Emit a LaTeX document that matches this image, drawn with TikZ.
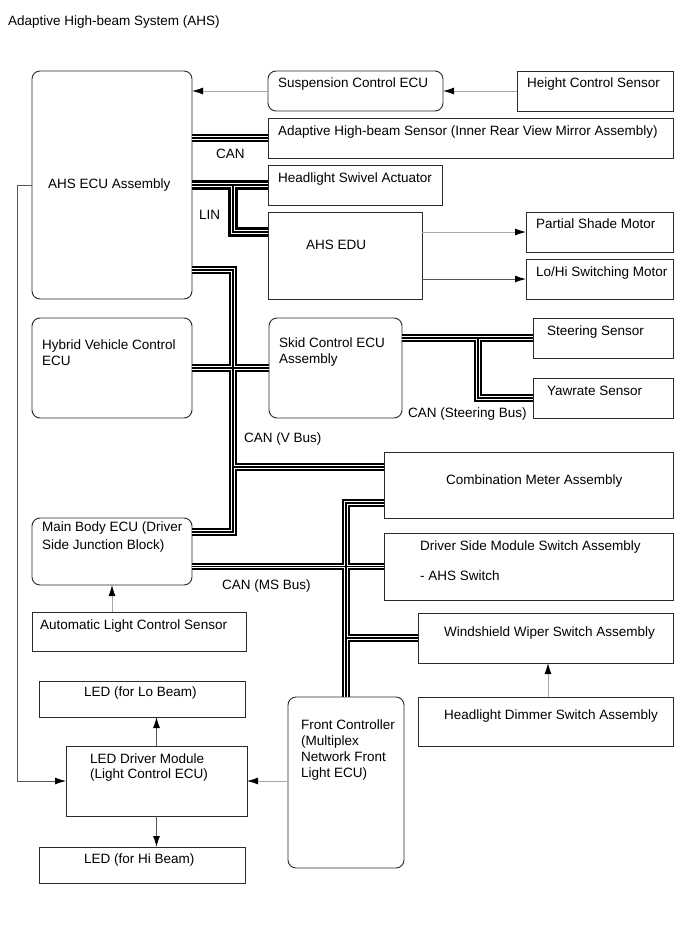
\documentclass[tikz,border=0pt]{standalone}
\usepackage{fontspec}
\setmainfont{Liberation Sans}
\usetikzlibrary{arrows.meta,calc}
\definecolor{boxc}{HTML}{2A2A2A}
\definecolor{lgray}{HTML}{A8A8A8}
\definecolor{dgray}{HTML}{555555}
\begin{document}
\begin{tikzpicture}[x=1pt,y=-1pt,
  box/.style={draw=boxc, line width=0.9pt, fill=white, inner sep=0, outer sep=0, anchor=north west},
  rbox/.style={box, rounded corners=8pt},
  txt/.style={anchor=base west, inner sep=0, font=\fontsize{13.5}{16}\selectfont},
  lconn/.style={line width=0.8pt, draw=lgray, -{Latex[length=11pt,width=7pt,color=black]}},
  dconn/.style={line width=0.8pt, draw=dgray, -{Latex[length=11pt,width=7pt,color=black]}},
  busA/.style={line width=7.5pt, draw=black},
  busB/.style={line width=3.6pt, draw=white},
  busC/.style={line width=1.2pt, draw=black},
  linA/.style={line width=9.5pt, draw=black},
  linB/.style={line width=4.8pt, draw=white},
  linC/.style={line width=2.4pt, draw=black}
]
\fill[white] (0,0) rectangle (689,951);
\useasboundingbox (0,0) rectangle (689,951);

\newcommand\bx[6]{\node[#6, minimum width=#4pt, minimum height=#5pt] (#1) at (#2,#3) {};}
\newcommand\tx[4]{\node[txt] (#1) at (#2,#3) {#4};}

% boxes
\bx{ahs}{32}{71}{160}{228}{rbox}
\bx{susp}{268}{71}{175}{40}{rbox}
\bx{hcs}{517}{71}{156}{40}{box}
\bx{ahsens}{268}{118}{405}{40}{box}
\bx{swivel}{268}{165}{174}{40}{box}
\bx{edu}{268}{212}{154}{87}{box}
\bx{psm}{526}{212}{147}{40}{box}
\bx{lohi}{526}{259}{147}{40}{box}
\bx{hyb}{32}{318}{160}{100}{rbox}
\bx{skid}{269}{318}{133}{100}{rbox}
\bx{steer}{533}{318}{140}{40}{box}
\bx{yaw}{533}{378}{140}{40}{box}
\bx{comb}{384}{452}{289}{66}{box}
\bx{main}{32}{518}{160}{67}{rbox}
\bx{drv}{384}{533}{289}{67}{box}
\bx{als}{32}{612}{214}{39}{box}
\bx{wiper}{418}{613}{255}{50}{box}
\bx{dimmer}{418}{697}{255}{49}{box}
\bx{ledlo}{39}{681}{206}{36}{box}
\bx{ledd}{66}{746}{181}{70}{box}
\bx{front}{288}{697}{116}{171}{rbox}
\bx{ledhi}{39}{847}{206}{36}{box}

% bus junction coordinates
\coordinate (lj) at (233,185);
\coordinate (lj2) at (233,232);
\coordinate (va) at (233,270);
\coordinate (vb) at (233,532);
\coordinate (vc) at (233,467);
\coordinate (mv) at (346,503);
\coordinate (sj) at (478,338);

\newcommand\canpaths[1]{%
  \draw[#1] (ahs.east |- ahsens.west) -- (ahsens.west);
  \draw[#1] (ahs.east |- va) -- (va) -- (vb) -- (main.east |- vb);
  \draw[#1] (vc) -- (comb.west |- vc);
  \draw[#1] (hyb.east) -- (skid.west);
  \draw[#1] (main.east |- drv.west) -- (drv.west);
  \draw[#1] (comb.west |- mv) -- (mv) -- (front.north);
  \draw[#1] (front.north |- wiper.west) -- (wiper.west);
  \draw[#1] (skid.east |- steer.west) -- (steer.west);
  \draw[#1] (sj) -- (sj |- yaw.west) -- (yaw.west);
}
\newcommand\linpaths[1]{%
  \draw[#1] (ahs.east |- swivel.west) -- (swivel.west);
  \draw[#1] (lj) -- (lj2) -- (edu.west |- lj2);
}
\linpaths{linA}\canpaths{busA}
\linpaths{linB}\canpaths{busB}
\linpaths{linC}\canpaths{busC}

% thin connectors
\draw[lconn] (hcs.west) -- (susp.east);
\draw[lconn] (susp.west) -- (ahs.east |- susp.west);
\draw[lconn] (edu.east |- psm.west) -- (psm.west);
\draw[dconn] (edu.east |- lohi.west) -- (lohi.west);
\draw[lconn] (main.south |- als.north) -- (main.south);
\draw[lconn] (dimmer.north -| 548,0) -- (wiper.south -| 548,0);
\draw[dconn] (ledd.north) -- (ledd.north |- ledlo.south);
\draw[dconn] (ledd.south) -- (ledd.south |- ledhi.north);
\draw[lconn] (front.west |- ledd.east) -- (ledd.east);
\draw[dconn] (ahs.west) -- ++(-15,0) |- (ledd.west);

% texts
\tx{t0}{8}{25}{Adaptive High-beam System (AHS)}
\tx{t1}{48}{188}{AHS ECU Assembly}
\tx{t2}{278}{87}{Suspension Control ECU}
\tx{t3}{527}{87}{Height Control Sensor}
\tx{t4}{278}{135}{Adaptive High-beam Sensor (Inner Rear View Mirror Assembly)}
\tx{t5}{216}{158}{CAN}
\tx{t6}{278}{182}{Headlight Swivel Actuator}
\tx{t7}{199}{219}{LIN}
\tx{t8}{306}{249}{AHS EDU}
\tx{t9}{536}{228}{Partial Shade Motor}
\tx{t10}{536}{276}{Lo/Hi Switching Motor}
\tx{t11}{42}{349}{Hybrid Vehicle Control}
\tx{t12}{42}{365}{ECU}
\tx{t13}{279}{347}{Skid Control ECU}
\tx{t14}{279}{363}{Assembly}
\tx{t15}{547}{335}{Steering Sensor}
\tx{t16}{547}{395}{Yawrate Sensor}
\tx{t17}{408}{417}{CAN (Steering Bus)}
\tx{t18}{244}{442}{CAN (V Bus)}
\tx{t19}{446}{484}{Combination Meter Assembly}
\tx{t20}{42}{531}{Main Body ECU (Driver}
\tx{t21}{42}{549}{Side Junction Block)}
\tx{t22}{420}{550}{Driver Side Module Switch Assembly}
\tx{t23}{420}{580}{- AHS Switch}
\tx{t24}{222}{589}{CAN (MS Bus)}
\tx{t25}{40}{629}{Automatic Light Control Sensor}
\tx{t26}{444}{636}{Windshield Wiper Switch Assembly}
\tx{t27}{444}{719}{Headlight Dimmer Switch Assembly}
\tx{t28}{84}{696}{LED (for Lo Beam)}
\tx{t29}{90}{763}{LED Driver Module}
\tx{t30}{90}{778}{(Light Control ECU)}
\tx{t31}{301}{729}{Front Controller}
\tx{t32}{301}{745}{(Multiplex}
\tx{t33}{301}{761}{Network Front}
\tx{t34}{301}{777}{Light ECU)}
\tx{t35}{84}{863}{LED (for Hi Beam)}
\end{tikzpicture}
\end{document}
